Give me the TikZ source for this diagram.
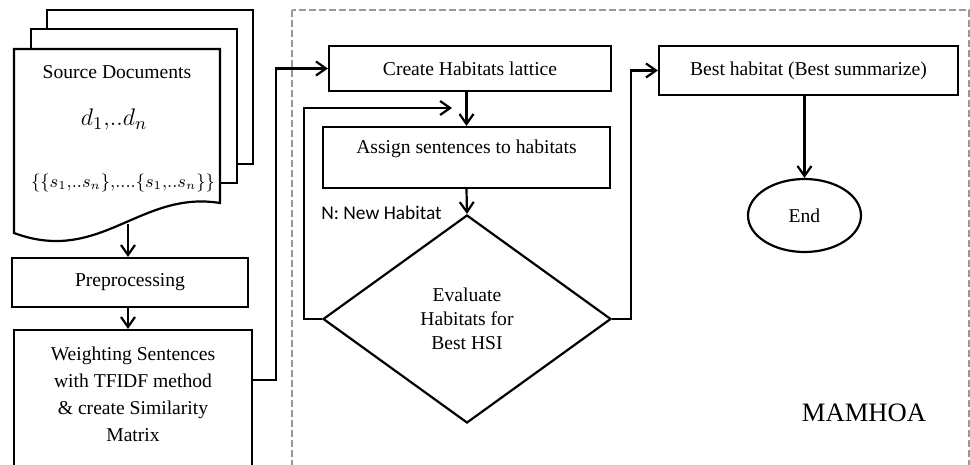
\documentclass[tikz,border=0pt]{standalone}
\usepackage{fontspec}
\setmainfont{Liberation Serif}
\newfontfamily\labelfont{Carlito}
\usetikzlibrary{positioning,arrows.meta,shapes.geometric}

\begin{document}
\begin{tikzpicture}[x=0.5pt, y=-0.5pt, line width=1.1pt,
    font=\fontsize{9.8}{12}\selectfont, >={Straight Barb[length=5pt,width=7pt]},
    procbox/.style={draw, fill=white, inner sep=0pt, align=center},
    page/.style={draw, fill=white},
    frame/.style={draw=black!40, line width=1pt, dash pattern=on 3.5pt off 1.5pt}]
    \useasboundingbox (0,0) rectangle (970,465);
    \clip (0,0) rectangle (970,465);

    % outer frame of the method
    \draw[frame] (292,10) rectangle (969,490);

    % stack of source documents
    \foreach \dx/\dy in {33/-39, 17/-20}
      \draw[page] (14+\dx,49+\dy) rectangle (220+\dx,203+\dy);
    \draw[page] (14,49) -- (220,49) -- (220,203)
      .. controls (140,190) and (100,265) .. (14,233) -- cycle;
    \coordinate (docbot) at (128,224);
    \node (srctitle) at (117,72) {Source Documents};
    \node[font=\fontsize{12.5}{14}\selectfont] (srcd) at (114,120) {$d_1{,}..d_n$};
    \node[font=\fontsize{9}{11}\selectfont] (srcs) at (123,183)
      {$\{\{s_1{,}..s_n\}{,}....\{s_1{,}..s_n\}\}$};

    % left column
    \node[procbox, minimum width=118pt, minimum height=24.5pt] (pre) at (130,282.5) {Preprocessing};
    \node[procbox, minimum width=119pt, minimum height=70pt, text depth=6pt,
          font=\fontsize{9.8}{13.5}\selectfont] (wt) at (133,400)
      {Weighting Sentences\\with TFIDF method\\\& create Similarity\\Matrix};

    % habitat loop
    \node[procbox, minimum width=141pt, minimum height=22.5pt] (create) at (470,68.5) {Create Habitats lattice};
    \node[procbox, minimum width=143.5pt, text height=13.5pt, text depth=17pt] (assign) at (466.5,157.5)
      {Assign sentences to habitats};
    \node[procbox, diamond, minimum width=144pt, minimum height=104pt] (eval) at (467,319)
      {Evaluate\\Habitats for\\Best HSI};
    \node[font=\labelfont\fontsize{9.7}{11}\selectfont] (nlab) at (381.5,213) {N: New Habitat};
    \coordinate (loopin) at (452,108);

    % result
    \node[procbox, minimum width=149.5pt, minimum height=24.5pt] (best) at (808.5,70.5)
      {Best habitat (Best summarize)};
    \node[draw, ellipse, minimum width=56.5pt, minimum height=36.5pt, inner sep=0pt] (end) at (804.5,215.5) {End};
    \node[font=\fontsize{13.3}{15}\selectfont] (mam) at (864,413) {MAMHOA};

    % connectors
    \draw[->] (docbot) -- (docbot |- pre.north);
    \draw[->] (pre.south -| docbot) -- (wt.north -| docbot);
    \draw[->] ([yshift=10pt]wt.east) -- ++(23,0) |- (create.west);
    \draw[->] (assign.north |- create.south) -- (assign.north);
    \draw[->] (assign.south) -- (eval.north);
    \draw[->] (eval.west) -- ++(-18,0) |- (loopin);
    \draw[->] (eval.east) -- ++(19,0) |- (best.west);
    \draw[->] (end.north |- best.south) -- (end.north);
  \end{tikzpicture}
\end{document}
